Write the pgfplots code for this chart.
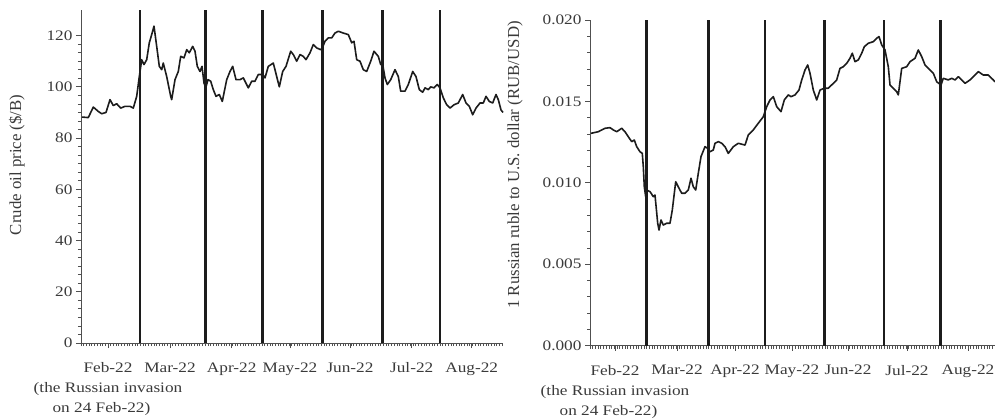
\documentclass[border=0pt]{standalone}
\usepackage{pgfplots}
\pgfplotsset{compat=1.18}
\usepackage{fontspec}
\setmainfont{Liberation Serif}[FakeStretch=1.19]
\newfontfamily\ylfont{Liberation Serif}
\definecolor{txtgray}{HTML}{3A3A3A}
\definecolor{axgray}{HTML}{505050}
\definecolor{lnblack}{HTML}{1C1C1C}
\pgfplotsset{
  myax/.style={
    scale only axis,
    axis lines=left,
    axis line style={draw=axgray, line width=1bp, -},
    tick align=outside,
    tick style={draw=axgray, line width=0.7bp},
    major tick length=5bp,
    minor tick length=3bp,
    tick label style={font=\fontsize{14.5bp}{20bp}\selectfont, text=txtgray},
    /pgf/number format/assume math mode=true,
    xticklabel style={align=center, yshift=-11bp},
    ylabel style={font=\ylfont\fontsize{16.8bp}{20bp}\selectfont, text=txtgray, anchor=center},
    clip=false,
  },
  vline/.style={draw=lnblack, line width=2.6bp},
  dline/.style={draw=lnblack, line width=1.6bp, line join=round},
}
\begin{document}
\begin{tikzpicture}
\begin{axis}[myax,
  at={(81bp,76bp)}, anchor=south west,
  width=422bp, height=333bp,
  xmin=0, xmax=422, ymin=0, ymax=130,
  xtick={27,89,150.7,209,269,330.7,390.7},
  xticklabels={{Feb-22\\(the Russian invasion\\on 24 Feb-22)\hspace*{13bp}},Mar-22,Apr-22,May-22,Jun-22,Jul-22,Aug-22},
  minor xtick={0,2.7,...,422},
  ytick={0,20,40,60,80,100,120},
  minor y tick num=5,
  ylabel={Crude oil price (\$/B)},
  ylabel style={at={(axis description cs:-0.152,0.535)}},
]
\addplot[vline] coordinates {(59,0)(59,130)};
\addplot[vline] coordinates {(124.7,0)(124.7,130)};
\addplot[vline] coordinates {(181.7,0)(181.7,130)};
\addplot[vline] coordinates {(241.3,0)(241.3,130)};
\addplot[vline] coordinates {(301.7,0)(301.7,130)};
\addplot[vline] coordinates {(359,0)(359,130)};
\addplot[dline] coordinates {
(1,88.2)(7.3,88)(12.3,92.1)(17.3,90.4)(20.7,89.5)(25,90)(29,95)(32.3,92.7)(35.7,93.4)(39.7,91.7)(44,92.4)(49,92.4)(52.3,91.7)(55.7,96.3)(58.3,104)(60.7,110.6)(63,108.7)(65.7,110.6)(68.3,117.2)(70.7,120.4)(73,123.7)(75.7,115.8)(78.3,108)(80.7,106.7)(82.3,109.3)(85.7,104)(89.7,96.3)(90.7,95)(94,102.8)(97.3,106)(99.7,111.9)(103,111.3)(105.7,114.5)(108.3,113.3)(111.7,115.8)(114,113.9)(116.3,108)(119,106)(121,108)(123,101.5)(124.7,99.6)(127,102.8)(129.7,102.2)(132.3,98.9)(135,96.3)(138.3,97)(141.3,94.3)(145.7,102.8)(149,106)(151.7,108)(155,102.8)(159,102.8)(162.3,103.5)(167.3,99.6)(170.7,102.2)(174,102.2)(177.3,104.8)(181.7,104.8)(184,103.5)(187.3,108)(192.3,109.3)(195.7,104)(198.3,100)(201.7,106)(205,108)(209.7,113.9)(212.3,112.6)(215.7,110)(219,112.6)(222.3,111.9)(225,110.6)(229,113.3)(232.3,116.5)(235.7,115.2)(239.7,114.5)(241.3,115.2)(244,117.8)(247.3,119.1)(250.7,119.1)(254,121)(257.3,121.7)(262.3,121)(267.3,120.4)(270.7,117.2)(273,117.8)(275.7,110.6)(279,110)(282.3,106.7)(285.7,106)(289.7,110)(293,113.9)(297.3,111.9)(299.7,108.7)(301.7,108.7)(304,103.5)(306.3,100.9)(309.7,102.8)(314,106.7)(317.3,104)(319.7,98.3)(324,98.3)(327.3,100.9)(331.7,106)(335,104)(338.3,98.9)(341.7,97.9)(344,99.6)(347.3,98.9)(349.7,100)(353,99.6)(356.3,100.9)(359,99.6)(362.3,95.7)(365.7,93)(369,91.7)(373,93)(377.3,93.7)(381.7,97)(385,93.7)(388.3,92.4)(391.7,89.1)(395,91.7)(399,93.7)(402.3,93.7)(405,96.3)(408.3,94.3)(411.7,93.7)(415,97)(417.3,95)(420,91)(422,90)
};
\end{axis}
\begin{axis}[myax,
  at={(590bp,73.3bp)}, anchor=south west,
  width=405bp, height=325.7bp,
  xmin=0, xmax=405, ymin=0, ymax=0.02,
  xtick={25,87,145,202,258,317,378},
  xticklabels={{Feb-22\\(the Russian invasion\\on 24 Feb-22)\hspace*{13bp}},Mar-22,Apr-22,May-22,Jun-22,Jul-22,Aug-22},
  minor xtick={0,2.7,...,405},
  ytick={0,0.005,0.01,0.015,0.02},
  minor y tick num=4,
  scaled y ticks=false,
  yticklabel style={/pgf/number format/.cd, fixed, fixed zerofill, precision=3},
  ylabel={1 Russian ruble to U.S. dollar (RUB/USD)},
  ylabel style={at={(axis description cs:-0.185,0.555)}},
]
\addplot[vline] coordinates {(56.7,0)(56.7,0.02)};
\addplot[vline] coordinates {(118.7,0)(118.7,0.02)};
\addplot[vline] coordinates {(175,0)(175,0.02)};
\addplot[vline] coordinates {(234.3,0)(234.3,0.02)};
\addplot[vline] coordinates {(294,0)(294,0.02)};
\addplot[vline] coordinates {(350.7,0)(350.7,0.02)};
\addplot[dline] coordinates {
(1,0.01304)(8.3,0.01314)(15,0.01335)(20,0.01339)(23.3,0.01325)(26.7,0.01314)(31.7,0.01335)(35,0.01314)(38.3,0.01283)(41.7,0.01253)(44.3,0.01263)(46.7,0.01222)(50,0.01191)(52.3,0.01181)(53.3,0.01099)(54.3,0.00976)(55.7,0.00915)(56.7,0.00956)(60,0.00946)(63.3,0.00915)(65,0.00925)(67.7,0.00752)(69,0.0071)(71,0.00772)(73.3,0.00741)(76.7,0.00752)(80,0.00752)(82.3,0.00833)(85.7,0.01007)(89,0.00967)(91.7,0.00936)(95,0.00936)(98.3,0.00956)(101,0.01028)(103.3,0.00976)(105.7,0.00956)(108.3,0.01059)(111,0.01161)(115,0.01222)(117.7,0.01212)(120,0.01191)(123.3,0.01202)(125,0.01243)(128.3,0.01253)(131.7,0.01243)(135,0.01222)(138.3,0.01181)(143.3,0.01222)(148.3,0.01243)(155,0.01232)(158.3,0.01294)(163.3,0.01325)(168.3,0.01366)(173.3,0.01406)(176.7,0.01468)(180,0.01509)(183.3,0.01529)(186.7,0.01468)(191,0.01437)(194.3,0.01509)(198.3,0.0154)(201,0.01529)(205,0.0154)(209,0.0157)(211.7,0.01632)(215,0.01693)(217.7,0.01724)(220,0.01673)(223.3,0.0157)(226.7,0.01509)(230,0.0157)(234.3,0.01581)(238.3,0.01581)(243.3,0.01611)(246.7,0.01632)(250,0.01703)(253.3,0.01713)(256.7,0.01734)(260,0.01765)(262.3,0.01796)(265,0.01744)(268.3,0.01755)(271.7,0.01796)(274.3,0.01836)(278.3,0.01857)(283.3,0.01867)(286.7,0.01888)(289,0.01898)(291.7,0.01847)(295,0.01816)(298.3,0.01713)(300,0.01601)(303.3,0.01581)(306.7,0.0156)(308.3,0.0154)(311.7,0.01703)(316.7,0.01713)(320,0.01744)(325,0.01765)(328.3,0.01816)(331.7,0.01775)(335,0.01724)(340,0.01693)(343.3,0.01673)(346.7,0.01621)(351,0.01601)(353.3,0.01642)(358.3,0.01632)(361.7,0.01642)(365,0.01632)(368.3,0.01652)(371.7,0.01632)(375,0.01611)(380,0.01632)(385,0.01662)(388.3,0.01683)(393.3,0.01662)(398.3,0.01662)(403.3,0.01632)(405,0.0162)
};
\end{axis}
\pgfresetboundingbox
\useasboundingbox (0,0) rectangle (995bp,419bp);
\end{tikzpicture}
\end{document}
